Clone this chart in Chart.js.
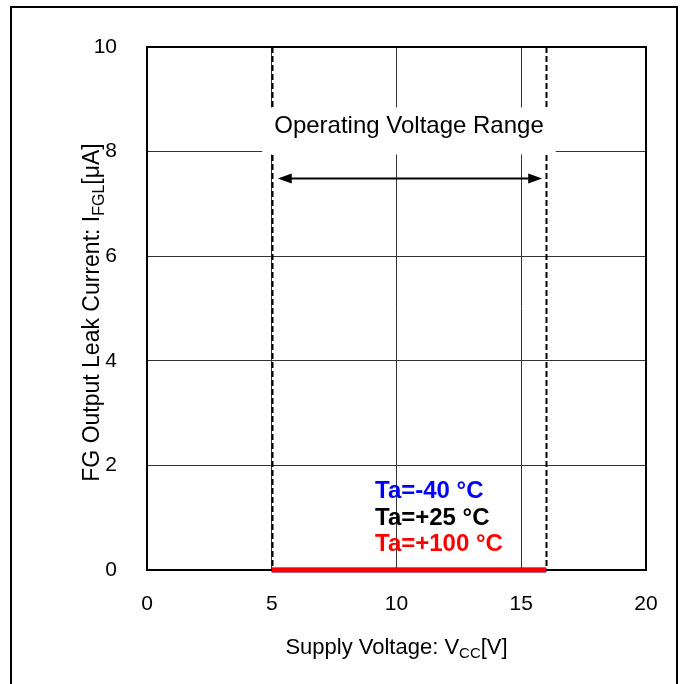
<!DOCTYPE html>
<html>
<head>
<meta charset="utf-8">
<script src="https://cdn.jsdelivr.net/npm/chart.js@4"></script>
<style>
  html, body { margin: 0; padding: 0; background: #ffffff; }
  #wrap { position: relative; width: 685px; height: 684px; }
</style>
</head>
<body>
<div id="wrap"><canvas id="chart" width="685" height="684"></canvas></div>
<script>
// Supply voltage sweep points [V]
const vccPoints = [5, 16];
// FG output leak current [uA] per ambient temperature
const leakM40 = [0, 0];
const leak25 = [0, 0];
const leak100 = [0, 0];
const seriesLabels = ['Ta=-40 °C', 'Ta=+25 °C', 'Ta=+100 °C'];
const seriesColors = ['#0000ff', '#000000', '#ff0000'];

// Axis setup
const xTicks = [0, 5, 10, 15, 20];
const yTicks = [0, 2, 4, 6, 8, 10];
const xTitle = ['Supply Voltage: V', 'CC', '[V]'];
const yTitle = ['FG Output Leak Current: I', 'FGL', '[\u03bcA]'];

// Operating range annotation
const rangeBounds = [5, 16];
const rangeLabel = 'Operating Voltage Range';
const rangeLabelY = 8.5;
const rangeArrowY = 7.5;

const FONT = "'Liberation Sans', Arial, sans-serif";

function toPoints(ys) {
  return vccPoints.map((x, i) => ({ x: x, y: ys[i] }));
}

// Draws a title made of [main, subscript, tail] pieces, centred on (cx, cy)
function drawSubTitle(ctx, parts, cx, cy, size, rotate) {
  ctx.save();
  ctx.translate(cx, cy);
  if (rotate) ctx.rotate(-Math.PI / 2);
  const subSize = Math.round(size * 0.7);
  ctx.font = size + 'px ' + FONT;
  const w0 = ctx.measureText(parts[0]).width;
  const w2 = ctx.measureText(parts[2]).width;
  ctx.font = subSize + 'px ' + FONT;
  const w1 = ctx.measureText(parts[1]).width;
  let x = -(w0 + w1 + w2) / 2;
  const base = size * 0.36;
  ctx.fillStyle = '#000';
  ctx.textBaseline = 'alphabetic';
  ctx.textAlign = 'left';
  ctx.font = size + 'px ' + FONT;
  ctx.fillText(parts[0], x, base);
  x += w0;
  ctx.font = subSize + 'px ' + FONT;
  ctx.fillText(parts[1], x, base + size * 0.2);
  x += w1;
  ctx.font = size + 'px ' + FONT;
  ctx.fillText(parts[2], x, base);
  ctx.restore();
}

const decorPlugin = {
  id: 'decor',
  beforeDraw(chart) {
    const ctx = chart.ctx;
    ctx.save();
    ctx.fillStyle = '#fff';
    ctx.fillRect(0, 0, chart.width, chart.height);
    // outer frame
    ctx.strokeStyle = '#000';
    ctx.lineWidth = 2;
    ctx.strokeRect(11, 7, 666, 700);
    ctx.restore();
  },
  beforeDatasetsDraw(chart) {
    const ctx = chart.ctx;
    const xs = chart.scales.x, ys = chart.scales.y;
    const a = chart.chartArea;
    ctx.save();

    // dashed range limits
    ctx.strokeStyle = '#000';
    ctx.lineWidth = 2;
    ctx.setLineDash([6, 3]);
    rangeBounds.forEach(v => {
      const px = Math.round(xs.getPixelForValue(v)) + 0.5;
      ctx.beginPath();
      ctx.moveTo(px, a.top);
      ctx.lineTo(px, a.bottom);
      ctx.stroke();
    });
    ctx.setLineDash([]);

    // label box
    const size = 24;
    ctx.font = size + 'px ' + FONT;
    const tw = ctx.measureText(rangeLabel).width;
    const cx = (xs.getPixelForValue(rangeBounds[0]) + xs.getPixelForValue(rangeBounds[1])) / 2;
    const base = ys.getPixelForValue(rangeLabelY) + 8;
    ctx.fillStyle = '#fff';
    ctx.fillRect(cx - tw / 2 - 12, base - 26, tw + 24, 47);
    ctx.fillStyle = '#000';
    ctx.textAlign = 'center';
    ctx.textBaseline = 'alphabetic';
    ctx.fillText(rangeLabel, cx, base);

    // double arrow
    const ay = Math.round(ys.getPixelForValue(rangeArrowY)) + 0.5;
    const x1 = xs.getPixelForValue(rangeBounds[0]) + 6;
    const x2 = xs.getPixelForValue(rangeBounds[1]) - 4;
    ctx.lineWidth = 2;
    ctx.beginPath();
    ctx.moveTo(x1 + 8, ay);
    ctx.lineTo(x2 - 8, ay);
    ctx.stroke();
    ctx.beginPath();
    ctx.moveTo(x1, ay);
    ctx.lineTo(x1 + 14, ay - 5);
    ctx.lineTo(x1 + 14, ay + 5);
    ctx.closePath();
    ctx.moveTo(x2, ay);
    ctx.lineTo(x2 - 14, ay - 5);
    ctx.lineTo(x2 - 14, ay + 5);
    ctx.closePath();
    ctx.fill();

    // plot frame
    ctx.lineWidth = 2;
    ctx.strokeRect(a.left, a.top, a.right - a.left, a.bottom - a.top);
    ctx.restore();
  },
  afterDatasetsDraw(chart) {
    const ctx = chart.ctx;
    const a = chart.chartArea;
    ctx.save();
    // series legend
    ctx.font = 'bold 24px ' + FONT;
    ctx.textAlign = 'left';
    ctx.textBaseline = 'alphabetic';
    chart.data.datasets.forEach((ds, i) => {
      ctx.fillStyle = ds.borderColor;
      ctx.fillText(ds.label, 375, 498 + i * 26.5);
    });
    ctx.restore();
    // axis titles
    drawSubTitle(ctx, xTitle, (a.left + a.right) / 2, 646, 22, false);
    drawSubTitle(ctx, yTitle, 91, (a.top + a.bottom) / 2 + 4, 23, true);
  }
};

new Chart(document.getElementById('chart'), {
  type: 'line',
  data: {
    datasets: [
      { label: seriesLabels[0], data: toPoints(leakM40), borderColor: seriesColors[0], order: 2 },
      { label: seriesLabels[1], data: toPoints(leak25), borderColor: seriesColors[1], order: 1 },
      { label: seriesLabels[2], data: toPoints(leak100), borderColor: seriesColors[2], order: 0 }
    ].map(d => Object.assign(d, { borderWidth: 4.5, pointRadius: 0, fill: false, tension: 0, clip: false }))
  },
  options: {
    responsive: false,
    animation: false,
    devicePixelRatio: 1,
    layout: { padding: { top: 47, right: 39, left: 0, bottom: 0 } },
    plugins: { legend: { display: false }, tooltip: { enabled: false } },
    scales: {
      x: {
        type: 'linear', min: xTicks[0], max: xTicks[xTicks.length - 1],
        afterFit(s) { s.height = 114; },
        afterBuildTicks(s) { s.ticks = xTicks.map(v => ({ value: v })); },
        grid: { color: '#333333', lineWidth: 1, drawTicks: false },
        border: { display: false },
        ticks: { padding: 22, color: '#000', font: { family: FONT, size: 21 } }
      },
      y: {
        type: 'linear', min: yTicks[0], max: yTicks[yTicks.length - 1],
        afterFit(s) { s.width = 147; },
        afterBuildTicks(s) { s.ticks = yTicks.map(v => ({ value: v })); },
        grid: { color: '#333333', lineWidth: 1, drawTicks: false },
        border: { display: false },
        ticks: { padding: 30, color: '#000', font: { family: FONT, size: 21 } }
      }
    }
  },
  plugins: [decorPlugin]
});
</script>
</body>
</html>
